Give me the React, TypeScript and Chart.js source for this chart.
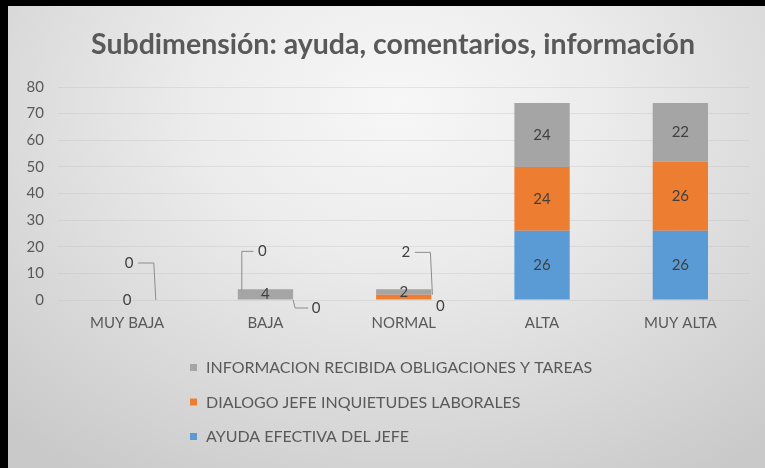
import React, { useEffect, useRef } from 'react';
import { Chart, registerables } from 'chart.js';

Chart.register(...registerables);

// ---- Data ----
const categories = ['MUY BAJA', 'BAJA', 'NORMAL', 'ALTA', 'MUY ALTA'];
const ayudaEfectivaJefe = [0, 0, 0, 26, 26];
const dialogoJefeInquietudes = [0, 0, 2, 24, 26];
const informacionRecibida = [0, 4, 2, 24, 22];
const seriesNames = [
  'AYUDA EFECTIVA DEL JEFE',
  'DIALOGO JEFE INQUIETUDES LABORALES',
  'INFORMACION RECIBIDA OBLIGACIONES Y TAREAS',
];
const yMin = 0;
const yMax = 80;
const yStep = 10;
const titleText = 'Subdimensión: ayuda, comentarios, información';

// ---- Style ----
const seriesColors = ['#5B9BD5', '#ED7D31', '#A5A5A5'];
const textGray = '#595959';
const labelColor = '#404040';
const leaderColor = '#8c8c8c';
const FONT = 'Lato, "Open Sans", sans-serif';

// label placement (c = centred, ur/ul = callout above, dr/drn = callout below right, '' = hidden)
const labelPlacement = [
  ['c', 'dr', 'drn', 'c', 'c'],
  ['ur', 'ul', 'ur', 'c', 'c'],
  ['', 'c', 'c', 'c', 'c'],
];

const titlePlugin = {
  id: 'excelTitle',
  afterDraw(chart: any) {
    const ctx = chart.ctx;
    ctx.save();
    ctx.font = `bold 28.5px ${FONT}`;
    ctx.fillStyle = textGray;
    ctx.textAlign = 'center';
    ctx.textBaseline = 'middle';
    ctx.fillText(titleText, 393, 45);
    ctx.restore();
  },
};

const dataLabelsPlugin = {
  id: 'excelDataLabels',
  afterDatasetsDraw(chart: any) {
    const ctx = chart.ctx;
    ctx.save();
    ctx.font = `15px ${FONT}`;
    ctx.fillStyle = labelColor;
    ctx.strokeStyle = leaderColor;
    ctx.lineWidth = 1;
    ctx.textAlign = 'center';
    ctx.textBaseline = 'middle';
    const nSets = chart.data.datasets.length;
    chart.data.datasets.forEach((ds: any, di: number) => {
      const meta = chart.getDatasetMeta(di);
      meta.data.forEach((el: any, i: number) => {
        const mode = labelPlacement[di][i];
        if (!mode) return;
        const v = ds.data[i];
        const txt = String(v);
        const { x, y, base, width } = el.getProps(['x', 'y', 'base', 'width'], true);
        const half = width / 2;
        let stackTop = base;
        for (let k = 0; k < nSets; k++) {
          const e = chart.getDatasetMeta(k).data[i];
          stackTop = Math.min(stackTop, e.y);
        }
        const segMid = (y + base) / 2;
        if (mode === 'c') {
          ctx.fillText(txt, x, segMid);
        } else if (mode === 'ur') {
          const lx = x + 2;
          const ly = stackTop - 37;
          ctx.fillText(txt, lx, ly);
          ctx.beginPath();
          ctx.moveTo(lx + 9, ly);
          ctx.lineTo(x + half - 1, ly);
          ctx.lineTo(x + half + 1, y);
          ctx.stroke();
        } else if (mode === 'ul') {
          const lx = x - 3;
          const ly = stackTop - 38;
          ctx.fillText(txt, lx, ly);
          ctx.beginPath();
          ctx.moveTo(lx - 9, ly);
          ctx.lineTo(x - half + 4, ly);
          ctx.lineTo(x - half + 4, stackTop + 1);
          ctx.stroke();
        } else if (mode === 'dr') {
          const lx = x + half + 23;
          const ly = base + 8;
          ctx.fillText(txt, lx, ly);
          ctx.beginPath();
          ctx.moveTo(x + half, base);
          ctx.lineTo(x + half + 2, ly);
          ctx.lineTo(lx - 8, ly);
          ctx.stroke();
        } else if (mode === 'drn') {
          ctx.fillText(txt, x + half + 9, base + 6);
        }
      });
    });
    ctx.restore();
  },
};

const legendPlugin = {
  id: 'verticalLegend',
  afterDraw(chart: any) {
    const ctx = chart.ctx;
    const area = chart.chartArea;
    ctx.save();
    ctx.font = `16px ${FONT}`;
    ctx.textAlign = 'left';
    ctx.textBaseline = 'middle';
    const n = chart.data.datasets.length;
    for (let r = 0; r < n; r++) {
      const di = n - 1 - r;
      const ds = chart.data.datasets[di];
      const cy = area.bottom + 68 + r * 34.5;
      ctx.fillStyle = ds.backgroundColor;
      ctx.fillRect(190, cy - 4, 7, 7);
      ctx.fillStyle = textGray;
      ctx.fillText(ds.label, 206, cy);
    }
    ctx.restore();
  },
};

export default function App() {
  const canvasRef = useRef<HTMLCanvasElement | null>(null);

  useEffect(() => {
    document.body.style.margin = '0';
    const canvas = canvasRef.current;
    if (!canvas) return;
    const seriesValues = [ayudaEfectivaJefe, dialogoJefeInquietudes, informacionRecibida];
    const chart = new Chart(canvas, {
      type: 'bar',
      data: {
        labels: categories,
        datasets: seriesValues.map((vals, i) => ({
          label: seriesNames[i],
          data: vals,
          backgroundColor: seriesColors[i],
          borderWidth: 0,
          barPercentage: 0.4,
          categoryPercentage: 1,
        })),
      },
      options: {
        responsive: false,
        animation: false,
        devicePixelRatio: 1,
        layout: { padding: { left: 0, right: 15.5, top: 87, bottom: 128 } },
        plugins: {
          legend: { display: false },
          tooltip: { enabled: false },
          title: { display: false },
        },
        scales: {
          x: {
            stacked: true,
            grid: { display: false, drawTicks: false },
            border: { display: false },
            ticks: {
              color: textGray,
              font: { family: FONT, size: 15 },
              padding: 14,
              maxRotation: 0,
              autoSkip: false,
            },
            afterFit: (scale: any) => {
              scale.height = 40;
            },
          },
          y: {
            stacked: true,
            min: yMin,
            max: yMax,
            grid: { color: 'rgba(185,185,185,0.3)', drawTicks: false },
            border: { display: false },
            ticks: {
              stepSize: yStep,
              color: textGray,
              font: { family: FONT, size: 15 },
              padding: 14,
            },
            afterFit: (scale: any) => {
              scale.width = 58;
            },
          },
        },
      },
      plugins: [dataLabelsPlugin, legendPlugin, titlePlugin],
    });
    return () => chart.destroy();
  }, []);

  return (
    <div
      style={{
        position: 'relative',
        width: 765,
        height: 468,
        overflow: 'hidden',
        background:
          'radial-gradient(ellipse 75% 95% at 52% 22%, #f7f7f7 0%, #ececec 35%, #dcdcdc 65%, #c9c9c9 100%)',
      }}
    >
      <div style={{ position: 'absolute', left: 0, top: 0, width: 765, height: 6, background: '#000' }} />
      <div style={{ position: 'absolute', left: 0, top: 0, width: 8, height: 468, background: '#000' }} />
      <canvas
        ref={canvasRef}
        width={765}
        height={468}
        style={{ position: 'absolute', left: 0, top: 0, width: 765, height: 468 }}
      />
    </div>
  );
}
